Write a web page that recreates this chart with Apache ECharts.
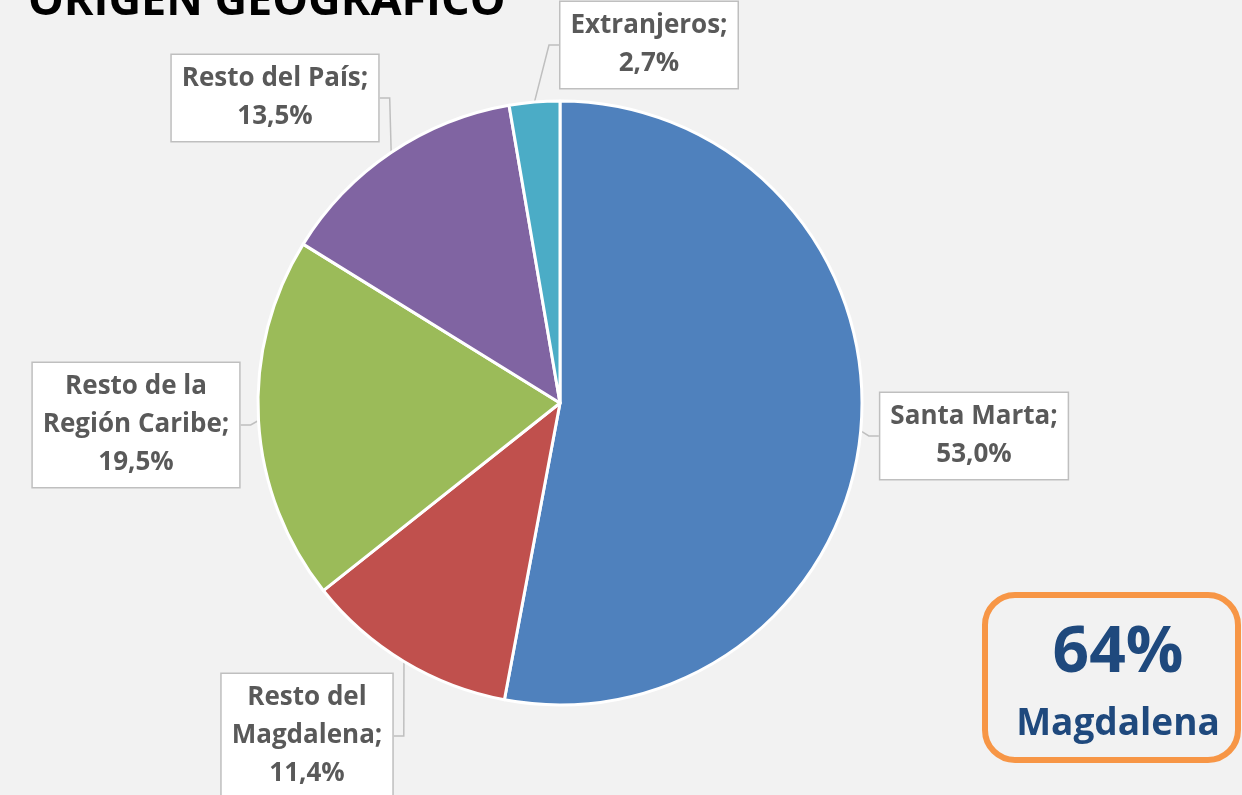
<!DOCTYPE html>
<html>
<head>
<meta charset="utf-8">
<title>Origen geográfico</title>
<script src="https://cdn.jsdelivr.net/npm/echarts@6/dist/echarts.min.js"></script>
<style>
  html, body { margin: 0; padding: 0; background: #f2f2f2; }
  #chart { width: 1242px; height: 795px; }
</style>
</head>
<body>
<div id="chart"></div>
<script>
  // data
  var categories = ['Santa Marta', 'Resto del\nMagdalena', 'Resto de la\nRegión Caribe', 'Resto del País', 'Extranjeros'];
  var shares = [53.0, 11.4, 19.5, 13.5, 2.7];
  var colors = ['#4f81bd', '#c0504d', '#9bbb59', '#8064a2', '#4bacc6'];

  // where each label box sits (centre of the box)
  var labelSpots = [
    { x: 974, y: 436 },
    { x: 307, y: 736 },
    { x: 136, y: 425 },
    { x: 275, y: 98 },
    { x: 649, y: 45 }
  ];

  var chartDom = document.getElementById('chart');
  var myChart = echarts.init(chartDom);

  var pieData = categories.map(function (name, i) {
    return { name: name, value: shares[i], itemStyle: { color: colors[i] } };
  });

  var option = {
    backgroundColor: '#f2f2f2',
    animation: false,
    graphic: [
      {
        type: 'text',
        left: 28,
        top: -20,
        style: {
          text: 'ORIGEN GEOGRÁFICO',
          font: 'bold 45px "Open Sans"',
          fill: '#000000'
        }
      },
      {
        type: 'rect',
        shape: { x: 985, y: 595, width: 253, height: 165, r: 30 },
        style: { fill: 'none', stroke: '#f79646', lineWidth: 6 }
      },
      {
        type: 'text',
        x: 1118,
        y: 654,
        style: {
          text: '64%',
          font: 'bold 64px "Open Sans"',
          fill: '#1f497d',
          align: 'center',
          verticalAlign: 'middle'
        }
      },
      {
        type: 'text',
        x: 1118,
        y: 724,
        style: {
          text: 'Magdalena',
          font: 'bold 37px "Open Sans"',
          fill: '#1f497d',
          align: 'center',
          verticalAlign: 'middle'
        }
      }
    ],
    series: [
      {
        type: 'pie',
        center: [560, 403],
        radius: 302,
        startAngle: 90,
        clockwise: true,
        avoidLabelOverlap: false,
        itemStyle: { borderColor: '#ffffff', borderWidth: 3 },
        label: {
          show: true,
          formatter: function (p) {
            return p.name + ';\n' + p.value.toFixed(1).replace('.', ',') + '%';
          },
          fontFamily: 'Open Sans',
          fontWeight: 'bold',
          fontSize: 26,
          lineHeight: 38,
          color: '#595959',
          align: 'center',
          backgroundColor: '#ffffff',
          borderColor: '#bfbfbf',
          borderWidth: 1.5,
          padding: [5, 10, 5, 10]
        },
        labelLine: {
          show: true,
          length: 10,
          length2: 10,
          lineStyle: { color: '#bfbfbf', width: 1.5 }
        },
        labelLayout: function (params) {
          var s = labelSpots[params.dataIndex];
          return { x: s.x, y: s.y, align: 'center', verticalAlign: 'middle', moveOverlap: false };
        },
        data: pieData
      }
    ]
  };

  option && myChart.setOption(option);
</script>
</body>
</html>
